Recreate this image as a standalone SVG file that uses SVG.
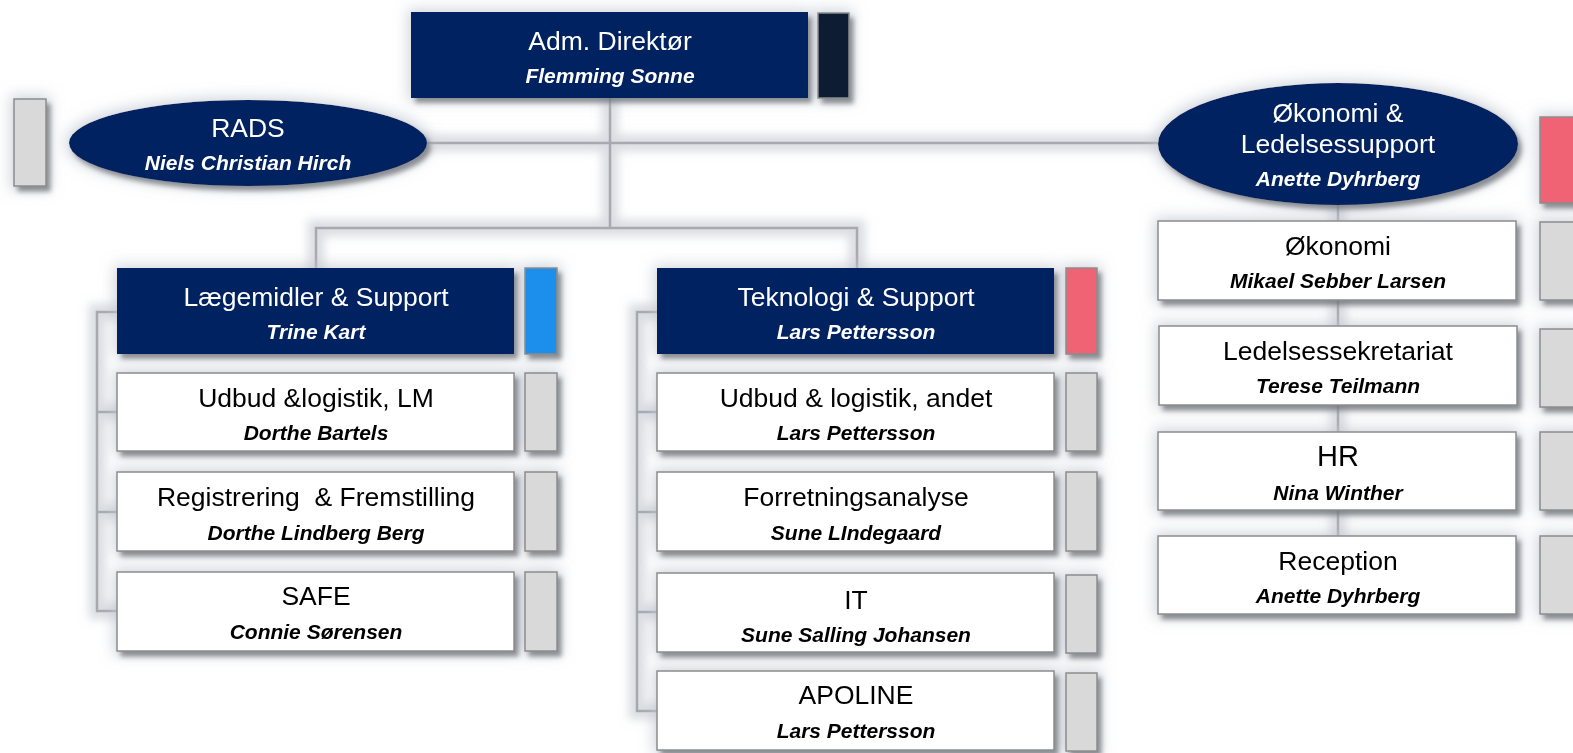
<svg xmlns="http://www.w3.org/2000/svg" width="1573" height="753" viewBox="0 0 1573 753">
<style>
.t{font-family:"Liberation Sans",Arial,sans-serif;font-size:26.5px;text-anchor:middle}
.n{font-family:"Liberation Sans",Arial,sans-serif;font-size:21px;font-weight:bold;font-style:italic;text-anchor:middle}
.w{fill:#ffffff}
.k{fill:#000000}
.navy{fill:#002060}
.box{fill:#ffffff;stroke:#8c8c8c;stroke-width:1.5}
.side{fill:#d9d9d9;stroke:#8c8c8c;stroke-width:1.5}
.red{fill:#f06474;stroke:#8c8c8c;stroke-width:1.5}
.blue{fill:#1b8fec;stroke:#8c8c8c;stroke-width:1.5}
.dark{fill:#0b1d33;stroke:#8c8c8c;stroke-width:1.5}
.ln{fill:none;stroke:#a6a9ad;stroke-width:2.5}
</style>
<defs>
<filter id="sh" x="-20%" y="-40%" width="140%" height="190%">
<feMorphology in="SourceAlpha" operator="dilate" radius="3" result="d1"/>
<feGaussianBlur in="d1" stdDeviation="7" result="b1"/>
<feFlood flood-color="#c3c8d1" flood-opacity="0.75"/>
<feComposite in2="b1" operator="in" result="halo"/>
<feGaussianBlur in="SourceAlpha" stdDeviation="2.5" result="b2"/>
<feOffset in="b2" dx="4" dy="5" result="o2"/>
<feFlood flood-color="#4a4f55" flood-opacity="0.65"/>
<feComposite in2="o2" operator="in" result="drop"/>
<feMerge><feMergeNode in="halo"/><feMergeNode in="drop"/><feMergeNode in="SourceGraphic"/></feMerge>
</filter>
<filter id="lg" x="-20%" y="-20%" width="140%" height="140%">
<feMorphology in="SourceAlpha" operator="dilate" radius="7" result="d"/>
<feGaussianBlur in="d" stdDeviation="5" result="b"/>
<feFlood flood-color="#cdd1d8" flood-opacity="0.75"/>
<feComposite in2="b" operator="in" result="halo"/>
<feMerge><feMergeNode in="halo"/><feMergeNode in="SourceGraphic"/></feMerge>
</filter>
</defs>
<rect width="1573" height="753" fill="#ffffff"/>
<g id="connectors" filter="url(#lg)">
<path class="ln" d="M610 98V228M316 268V228H857V268"/>
<path class="ln" d="M427 143H1158"/>
<path class="ln" d="M119 312H97V611H117M97 412H119M97 512H119"/>
<path class="ln" d="M659 312H637V711H657M637 412H659M637 512H659M637 612H659"/>
<path class="ln" d="M1338 205V536"/>
</g>
<g id="adm" filter="url(#sh)">
<rect class="navy" x="411" y="12" width="397" height="86"/>
<rect class="dark" x="818" y="13" width="31" height="85"/>
<text class="t w" x="610" y="50">Adm. Direktør</text>
<text class="n w" x="610" y="83">Flemming Sonne</text>
</g>
<g id="rads" filter="url(#sh)">
<ellipse class="navy" cx="248" cy="143" rx="179" ry="43"/>
<rect class="side" x="14" y="99" width="32" height="87"/>
<text class="t w" x="248" y="137">RADS</text>
<text class="n w" x="248" y="170">Niels Christian Hirch</text>
</g>
<g id="okonomi-ledelse" filter="url(#sh)">
<ellipse class="navy" cx="1338" cy="144" rx="180" ry="61"/>
<rect class="red" x="1540" y="117" width="40" height="86"/>
<text class="t w" x="1338" y="122">Økonomi &amp;</text>
<text class="t w" x="1338" y="153">Ledelsessupport</text>
<text class="n w" x="1338" y="186">Anette Dyhrberg</text>
</g>
<g id="laegemidler" filter="url(#sh)">
<rect class="navy" x="117" y="268" width="397" height="86"/>
<rect class="blue" x="525" y="268" width="32" height="86"/>
<text class="t w" x="316" y="306">Lægemidler &amp; Support</text>
<text class="n w" x="316" y="339">Trine Kart</text>
</g>
<g id="teknologi" filter="url(#sh)">
<rect class="navy" x="657" y="268" width="397" height="86"/>
<rect class="red" x="1066" y="268" width="31" height="86"/>
<text class="t w" x="856" y="306">Teknologi &amp; Support</text>
<text class="n w" x="856" y="339">Lars Pettersson</text>
</g>
<g id="udbud-lm" filter="url(#sh)">
<rect class="box" x="117" y="373" width="397" height="78"/>
<rect class="side" x="525" y="373" width="32" height="78"/>
<text class="t k" x="316" y="407">Udbud &amp;logistik, LM</text>
<text class="n k" x="316" y="440">Dorthe Bartels</text>
</g>
<g id="registrering" filter="url(#sh)">
<rect class="box" x="117" y="472" width="397" height="79"/>
<rect class="side" x="525" y="472" width="32" height="79"/>
<text class="t k" x="316" y="506" xml:space="preserve">Registrering  &amp; Fremstilling</text>
<text class="n k" x="316" y="540">Dorthe Lindberg Berg</text>
</g>
<g id="safe" filter="url(#sh)">
<rect class="box" x="117" y="572" width="397" height="79"/>
<rect class="side" x="525" y="572" width="32" height="79"/>
<text class="t k" x="316" y="605">SAFE</text>
<text class="n k" x="316" y="639">Connie Sørensen</text>
</g>
<g id="udbud-andet" filter="url(#sh)">
<rect class="box" x="657" y="373" width="397" height="78"/>
<rect class="side" x="1066" y="373" width="31" height="78"/>
<text class="t k" x="856" y="407">Udbud &amp; logistik, andet</text>
<text class="n k" x="856" y="440">Lars Pettersson</text>
</g>
<g id="forretning" filter="url(#sh)">
<rect class="box" x="657" y="472" width="397" height="79"/>
<rect class="side" x="1066" y="472" width="31" height="79"/>
<text class="t k" x="856" y="506">Forretningsanalyse</text>
<text class="n k" x="856" y="540">Sune LIndegaard</text>
</g>
<g id="it" filter="url(#sh)">
<rect class="box" x="657" y="573" width="397" height="79"/>
<rect class="side" x="1066" y="575" width="31" height="78"/>
<text class="t k" x="856" y="609">IT</text>
<text class="n k" x="856" y="642">Sune Salling Johansen</text>
</g>
<g id="apoline" filter="url(#sh)">
<rect class="box" x="657" y="671" width="397" height="79"/>
<rect class="side" x="1066" y="673" width="31" height="78"/>
<text class="t k" x="856" y="704">APOLINE</text>
<text class="n k" x="856" y="738">Lars Pettersson</text>
</g>
<g id="okonomi" filter="url(#sh)">
<rect class="box" x="1158" y="221" width="358" height="79"/>
<rect class="side" x="1540" y="222" width="40" height="78"/>
<text class="t k" x="1338" y="255">Økonomi</text>
<text class="n k" x="1338" y="288">Mikael Sebber Larsen</text>
</g>
<g id="ledelsessekretariat" filter="url(#sh)">
<rect class="box" x="1159" y="326" width="358" height="79"/>
<rect class="side" x="1540" y="329" width="40" height="78"/>
<text class="t k" x="1338" y="360">Ledelsessekretariat</text>
<text class="n k" x="1338" y="393">Terese Teilmann</text>
</g>
<g id="hr" filter="url(#sh)">
<rect class="box" x="1158" y="432" width="358" height="78"/>
<rect class="side" x="1540" y="432" width="40" height="78"/>
<text class="t k" x="1338" y="466" style="font-size:29px">HR</text>
<text class="n k" x="1338" y="500">Nina Winther</text>
</g>
<g id="reception" filter="url(#sh)">
<rect class="box" x="1158" y="536" width="358" height="78"/>
<rect class="side" x="1540" y="536" width="40" height="78"/>
<text class="t k" x="1338" y="570">Reception</text>
<text class="n k" x="1338" y="603">Anette Dyhrberg</text>
</g>
</svg>
